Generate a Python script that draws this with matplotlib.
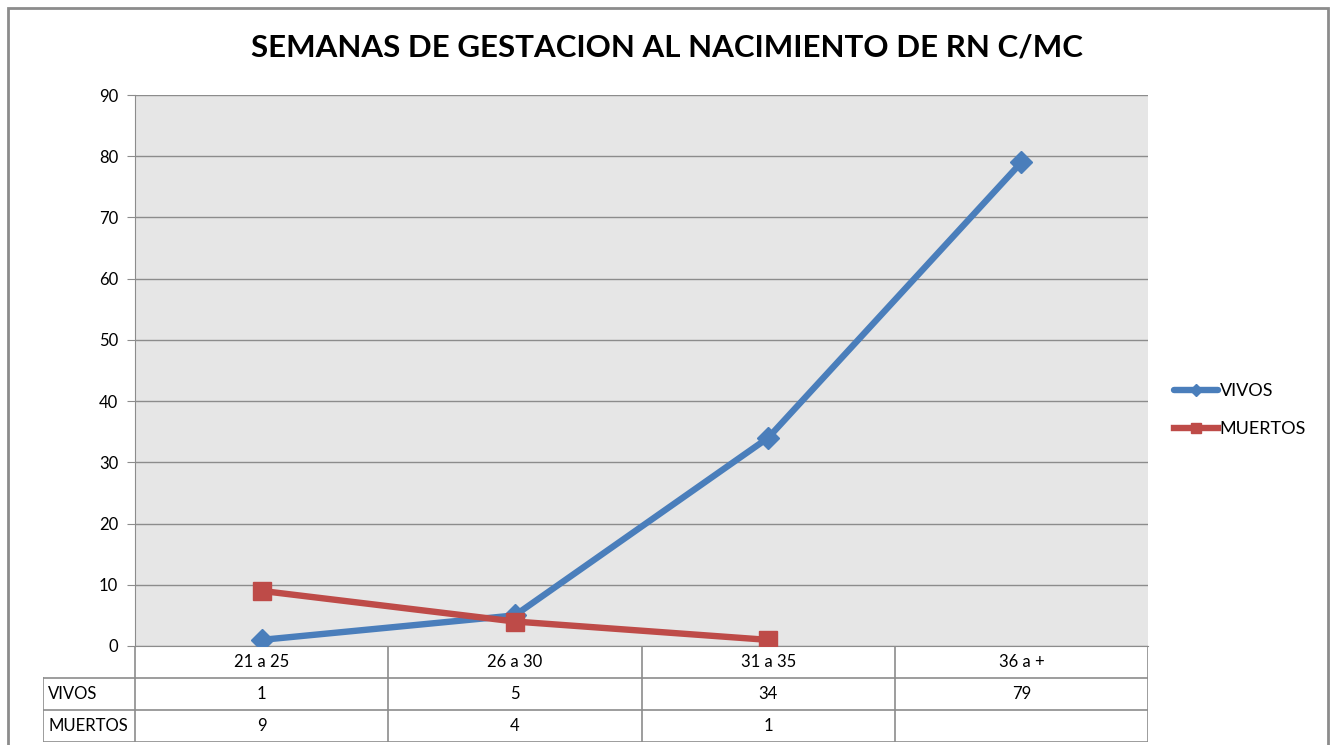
import matplotlib.pyplot as plt
import numpy as np
from matplotlib.patches import Rectangle

categories = ["21 a 25", "26 a 30", "31 a 35", "36 a +"]
vivos = [1, 5, 34, 79]
muertos = [9, 4, 1, None]
title = "SEMANAS DE GESTACION AL NACIMIENTO DE RN C/MC"

plt.rcParams["font.family"] = ["Lato", "DejaVu Sans"]

W, H = 1333, 745
fig = plt.figure(figsize=(W / 100, H / 100), dpi=100)

# gray frame of the chart object
fig.patches.append(Rectangle((8 / W, -0.01), (1328 - 8) / W, 1 - 8 / H + 0.01,
                             transform=fig.transFigure, fill=False,
                             edgecolor="#8c8c8c", lw=2))

left, right, top, bottom = 135, 1148, 95, 646
ax = fig.add_axes([left / W, 1 - bottom / H, (right - left) / W, (bottom - top) / H])
ax.set_facecolor("#e6e6e6")

x = np.arange(len(categories)) + 0.5
m_idx = [i for i, v in enumerate(muertos) if v is not None]
ax.plot(x, vivos, color="#4a7ebb", lw=4.6, marker="D", ms=11,
        label="VIVOS", zorder=3, solid_capstyle="round")
ax.plot(x[m_idx], [muertos[i] for i in m_idx], color="#be4b48", lw=4.6,
        marker="s", ms=13, label="MUERTOS", zorder=3)

ax.set_xlim(0, len(categories))
ax.set_ylim(0, 90)
ax.set_yticks(np.arange(0, 91, 10))
ax.set_xticks([])
ax.yaxis.grid(True, color="#8c8c8c", lw=1)
ax.set_axisbelow(True)
for s in ["top", "right"]:
    ax.spines[s].set_visible(False)
ax.spines["left"].set_color("#8c8c8c")
ax.spines["bottom"].set_color("#8c8c8c")
ax.tick_params(axis="y", length=6, color="#8c8c8c", labelsize=12, pad=6)

fig.text(0.5, 1 - 48 / H, title, ha="center", va="center",
         fontsize=22.5, fontweight="bold")

leg = ax.legend(loc="center left", bbox_to_anchor=(1.01, 0.428), frameon=False,
                fontsize=13, handlelength=2.4, handletextpad=0.1,
                labelspacing=1.2, markerscale=0.55)

# data table below the axis
unit = (right - left) / len(categories)
label_w = (left - 43) / unit
tab = fig.add_axes([43 / W, 1 - 742 / H, (right - 43) / W, (742 - bottom) / H])
tab.set_xlim(-label_w, len(categories))
tab.set_ylim(3, 0)
tab.axis("off")
gc = "#8c8c8c"
for i in range(len(categories) + 1):
    tab.plot([i, i], [0, 3], color=gc, lw=1.2)
tab.plot([-label_w, -label_w], [1, 3], color=gc, lw=1.2)
for r in [1, 2, 3]:
    tab.plot([-label_w, len(categories)], [r, r], color=gc, lw=1.2)
rows = [("VIVOS", vivos), ("MUERTOS", muertos)]
for i, c in enumerate(categories):
    tab.text(i + 0.5, 0.5, c, ha="center", va="center", fontsize=12)
for r, (name, vals) in enumerate(rows, start=1):
    tab.text(-label_w + 0.02, r + 0.5, name, ha="left", va="center", fontsize=12)
    for i, v in enumerate(vals):
        if v is not None:
            tab.text(i + 0.5, r + 0.5, str(v), ha="center", va="center", fontsize=12)

fig.savefig("out.png", dpi=100)
